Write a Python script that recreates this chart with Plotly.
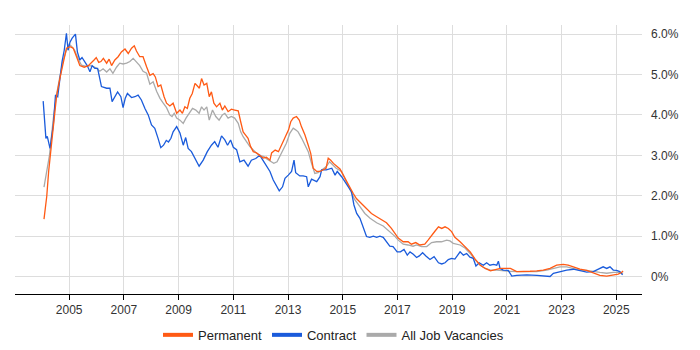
import plotly.graph_objects as go

# ---- data (year as decimal, value in %) ----
perm_x = [2004.08, 2004.18, 2004.25, 2004.3, 2004.42, 2004.54, 2004.66, 2004.78, 2004.9, 2005.03,
          2005.15, 2005.27, 2005.39, 2005.55, 2005.7, 2005.91, 2005.99, 2006.08, 2006.16, 2006.25,
          2006.37, 2006.46, 2006.55, 2006.67, 2006.79, 2006.91, 2007.04, 2007.16, 2007.28, 2007.38,
          2007.46, 2007.58, 2007.7, 2007.83, 2007.95, 2008.07, 2008.15, 2008.25, 2008.35, 2008.47,
          2008.56, 2008.68, 2008.8, 2008.93, 2009.05, 2009.14, 2009.23, 2009.32, 2009.41, 2009.5,
          2009.6, 2009.68, 2009.76, 2009.84, 2009.93, 2010.03, 2010.12, 2010.2, 2010.29, 2010.39,
          2010.51, 2010.6, 2010.69, 2010.81, 2010.93, 2011.05, 2011.18, 2011.27, 2011.36, 2011.45,
          2011.54, 2011.63, 2011.73, 2011.85, 2011.97, 2012.09, 2012.21, 2012.34, 2012.4, 2012.53,
          2012.65, 2012.73, 2012.83, 2012.92, 2013.02, 2013.1, 2013.19, 2013.31, 2013.41, 2013.49,
          2013.62, 2013.74, 2013.83, 2013.92, 2014.05, 2014.17, 2014.3, 2014.39, 2014.47, 2014.56,
          2014.66, 2014.78, 2014.9, 2015.02, 2015.14, 2015.25, 2015.38, 2015.5, 2015.68, 2015.87,
          2016.05, 2016.24, 2016.42, 2016.6, 2016.78, 2016.9, 2017.03, 2017.21, 2017.39, 2017.51,
          2017.67, 2017.82, 2018.0, 2018.12, 2018.25, 2018.37, 2018.5, 2018.62, 2018.74, 2018.86,
          2018.98, 2019.1, 2019.29, 2019.48, 2019.66, 2019.84, 2020.03, 2020.21, 2020.4, 2020.58,
          2020.77, 2020.95, 2021.13, 2021.36, 2021.6, 2021.85, 2022.09, 2022.33, 2022.58, 2022.82,
          2023.06, 2023.24, 2023.43, 2023.67, 2023.92, 2024.16, 2024.4, 2024.65, 2024.89, 2025.07,
          2025.19, 2025.25]
perm_y = [1.42, 1.98, 2.6, 2.93, 3.83, 4.47, 4.9, 5.32, 5.65, 5.69,
          5.65, 5.44, 5.22, 5.18, 5.22, 5.36, 5.42, 5.3, 5.32, 5.4,
          5.28, 5.38, 5.22, 5.36, 5.44, 5.56, 5.63, 5.52, 5.65, 5.71,
          5.58, 5.44, 5.44, 5.19, 4.98, 5.02, 4.94, 4.7, 4.74, 4.45,
          4.29, 4.22, 4.29, 4.04, 4.12, 4.04, 4.2, 4.16, 4.41, 4.53,
          4.78, 4.72, 4.66, 4.9, 4.74, 4.78, 4.45, 4.57, 4.29, 4.2,
          4.29, 4.12, 4.22, 4.08, 4.14, 4.12, 4.1, 3.83, 3.58, 3.5,
          3.42, 3.22, 3.09, 3.06, 3.0, 2.93, 2.95, 2.88, 3.06, 3.13,
          3.09, 3.2, 3.34, 3.46, 3.63, 3.83, 3.92, 3.96, 3.87, 3.71,
          3.5, 3.25, 3.05, 2.68, 2.6, 2.6, 2.64, 2.68, 2.93, 2.88,
          2.8, 2.72, 2.66, 2.51, 2.35, 2.21, 2.06, 1.93, 1.81, 1.69,
          1.56, 1.48, 1.4, 1.33, 1.19, 1.07, 0.95, 0.86, 0.86, 0.8,
          0.84, 0.78, 0.8, 0.9, 1.03, 1.12, 1.23, 1.19, 1.23, 1.19,
          1.11, 0.97, 0.86, 0.74, 0.61, 0.43, 0.28, 0.2, 0.14, 0.17,
          0.2, 0.2, 0.2, 0.12, 0.12, 0.13, 0.14, 0.16, 0.2, 0.28,
          0.3, 0.28, 0.24, 0.18, 0.15, 0.08, 0.03, 0.01, 0.03, 0.06,
          0.1, 0.14]

contract_x = [2004.05, 2004.15, 2004.2, 2004.3, 2004.42, 2004.5, 2004.58, 2004.66, 2004.74, 2004.82,
              2004.9, 2004.96, 2005.03, 2005.11, 2005.23, 2005.3, 2005.39, 2005.47, 2005.57, 2005.66,
              2005.76, 2005.84, 2005.94, 2006.04, 2006.12, 2006.18, 2006.37, 2006.49, 2006.57, 2006.67,
              2006.77, 2006.89, 2006.97, 2007.05, 2007.13, 2007.28, 2007.4, 2007.52, 2007.64, 2007.77,
              2007.89, 2008.01, 2008.13, 2008.25, 2008.35, 2008.45, 2008.55, 2008.63, 2008.72, 2008.8,
              2008.93, 2009.05, 2009.17, 2009.26, 2009.35, 2009.47, 2009.6, 2009.75, 2009.9, 2010.05,
              2010.2, 2010.32, 2010.44, 2010.57, 2010.69, 2010.79, 2010.9, 2011.0, 2011.12, 2011.24,
              2011.39, 2011.54, 2011.66, 2011.82, 2011.97, 2012.09, 2012.22, 2012.34, 2012.46, 2012.56,
              2012.68, 2012.8, 2012.89, 2013.01, 2013.13, 2013.22, 2013.28, 2013.43, 2013.55, 2013.68,
              2013.74, 2013.86, 2014.05, 2014.17, 2014.23, 2014.4, 2014.6, 2014.72, 2014.8, 2014.96,
              2015.08, 2015.2, 2015.32, 2015.41, 2015.51, 2015.63, 2015.75, 2015.87, 2015.99, 2016.12,
              2016.24, 2016.36, 2016.48, 2016.6, 2016.72, 2016.84, 2016.99, 2017.11, 2017.24, 2017.36,
              2017.46, 2017.58, 2017.7, 2017.8, 2017.92, 2018.04, 2018.19, 2018.34, 2018.5, 2018.62,
              2018.74, 2018.86, 2018.98, 2019.1, 2019.29, 2019.41, 2019.53, 2019.65, 2019.77, 2019.87,
              2019.99, 2020.14, 2020.26, 2020.38, 2020.51, 2020.63, 2020.69, 2020.75, 2020.87, 2021.05,
              2021.18, 2021.36, 2021.73, 2022.1, 2022.46, 2022.58, 2022.7, 2022.94, 2023.19, 2023.43,
              2023.67, 2023.92, 2024.16, 2024.4, 2024.52, 2024.65, 2024.77, 2024.89, 2025.01, 2025.13,
              2025.23]
contract_y = [4.34, 3.42, 3.47, 3.17, 3.75, 4.49, 4.45, 4.9, 5.32, 5.6,
              6.02, 5.6, 5.8, 5.9, 6.0, 5.56, 5.36, 5.42, 5.32, 5.22,
              5.07, 5.22, 5.15, 5.15, 4.9, 4.7, 4.66, 4.66, 4.33, 4.45,
              4.57, 4.45, 4.18, 4.41, 4.53, 4.43, 4.45, 4.49, 4.37, 4.16,
              4.0, 3.75, 3.67, 3.42, 3.19, 3.25, 3.37, 3.33, 3.42, 3.58,
              3.71, 3.55, 3.25, 3.44, 3.17, 3.09, 2.93, 2.73, 2.88, 3.09,
              3.25, 3.34, 3.2, 3.48, 3.38, 3.25, 3.38, 3.2, 3.14, 2.84,
              2.88, 2.73, 2.88, 2.92, 3.0, 2.88, 2.73, 2.6, 2.39, 2.26,
              2.12, 2.22, 2.43, 2.51, 2.6, 2.88, 2.57, 2.49, 2.49, 2.47,
              2.22, 2.41, 2.35, 2.47, 2.64, 2.64, 2.68, 2.51, 2.6, 2.47,
              2.35, 2.21, 2.1, 1.77, 1.56, 1.44, 1.19, 0.99, 0.97, 1.0,
              0.97, 1.0, 0.97, 0.86, 0.75, 0.74, 0.61, 0.61, 0.67, 0.53,
              0.61, 0.55, 0.47, 0.51, 0.59, 0.51, 0.42, 0.49, 0.34, 0.31,
              0.34, 0.42, 0.45, 0.43, 0.61, 0.53, 0.57, 0.48, 0.45, 0.26,
              0.34, 0.28, 0.34, 0.28, 0.3, 0.28, 0.38, 0.2, 0.16, 0.15,
              0.01, 0.03, 0.04, 0.03, 0.01, 0.0, 0.08, 0.12, 0.16, 0.18,
              0.15, 0.11, 0.12, 0.2, 0.24, 0.2, 0.24, 0.16, 0.15, 0.12,
              0.04]

all_x = [2004.08, 2004.18, 2004.28, 2004.42, 2004.54, 2004.66, 2004.78, 2004.9, 2005.0, 2005.1,
         2005.2, 2005.32, 2005.45, 2005.63, 2005.75, 2005.87, 2005.99, 2006.12, 2006.24, 2006.37,
         2006.49, 2006.6, 2006.73, 2006.85, 2006.97, 2007.1, 2007.22, 2007.34, 2007.46, 2007.58,
         2007.7, 2007.83, 2007.95, 2008.07, 2008.2, 2008.32, 2008.44, 2008.56, 2008.68, 2008.76,
         2008.84, 2008.93, 2009.05, 2009.17, 2009.27, 2009.39, 2009.51, 2009.63, 2009.75, 2009.84,
         2009.93, 2010.03, 2010.12, 2010.24, 2010.36, 2010.48, 2010.6, 2010.69, 2010.81, 2010.93,
         2011.05, 2011.18, 2011.27, 2011.36, 2011.48, 2011.6, 2011.73, 2011.85, 2011.97, 2012.12,
         2012.24, 2012.36, 2012.48, 2012.6, 2012.7, 2012.82, 2012.94, 2013.07, 2013.19, 2013.28,
         2013.37, 2013.5, 2013.62, 2013.74, 2013.86, 2013.98, 2014.1, 2014.23, 2014.4, 2014.52,
         2014.64, 2014.76, 2014.96, 2015.08, 2015.2, 2015.32, 2015.44, 2015.63, 2015.81, 2016.0,
         2016.24, 2016.48, 2016.72, 2016.9, 2017.03, 2017.21, 2017.39, 2017.57, 2017.7, 2017.88,
         2018.07, 2018.25, 2018.43, 2018.61, 2018.8, 2018.92, 2019.04, 2019.29, 2019.48, 2019.66,
         2019.84, 2020.03, 2020.21, 2020.4, 2020.64, 2020.87, 2021.1, 2021.36, 2021.73, 2022.09,
         2022.46, 2022.7, 2022.94, 2023.19, 2023.43, 2023.67, 2023.92, 2024.16, 2024.4, 2024.65,
         2024.89, 2025.14, 2025.25]
all_y = [2.21, 2.56, 3.0, 3.9, 4.5, 4.95, 5.35, 5.6, 5.75, 5.69,
         5.6, 5.4, 5.23, 5.2, 5.22, 5.2, 5.16, 5.08, 5.14, 5.06,
         5.14, 5.03, 5.18, 5.28, 5.26, 5.28, 5.32, 5.4, 5.3, 5.22,
         5.08, 5.03, 4.76, 4.82, 4.58, 4.41, 4.29, 4.18, 4.0, 3.96,
         4.04, 3.92, 3.87, 3.79, 3.92, 4.04, 4.16, 4.12, 4.04, 4.2,
         4.12, 4.2, 3.87, 4.12, 3.96, 3.87, 4.0, 4.04, 3.92, 3.96,
         3.92, 3.79, 3.58, 3.46, 3.34, 3.22, 3.13, 3.05, 3.0, 2.97,
         2.9, 2.84, 2.8, 2.84, 2.97, 3.13, 3.3, 3.55, 3.67, 3.63,
         3.58, 3.42, 3.25, 3.09, 2.8, 2.55, 2.57, 2.64, 2.72, 2.84,
         2.76, 2.68, 2.6, 2.43, 2.23, 2.06, 1.9, 1.73, 1.56, 1.44,
         1.33, 1.25, 1.11, 1.0, 0.9, 0.8, 0.78, 0.75, 0.78, 0.74,
         0.74, 0.84, 0.86, 0.86, 0.9, 0.88, 0.82, 0.78, 0.7, 0.57,
         0.41, 0.28, 0.2, 0.16, 0.16, 0.14, 0.13, 0.12, 0.12, 0.12,
         0.16, 0.2, 0.24, 0.24, 0.2, 0.16, 0.15, 0.12, 0.1, 0.08,
         0.1, 0.1, 0.08]

series_names = ["Permanent", "Contract", "All Job Vacancies"]
series_colors = ["#FF5A14", "#1A5BDB", "#AAAAAA"]

year_ticks = [2005, 2007, 2009, 2011, 2013, 2015, 2017, 2019, 2021, 2023, 2025]
pct_ticks = [0, 1, 2, 3, 4, 5, 6]
pct_labels = ["0%", "1.0%", "2.0%", "3.0%", "4.0%", "5.0%", "6.0%"]

fig = go.Figure()

# plot lines (drawn order: gray, blue, orange)
fig.add_trace(go.Scatter(x=all_x, y=all_y, mode="lines", name=series_names[2],
                         line=dict(color=series_colors[2], width=1.3), showlegend=False))
fig.add_trace(go.Scatter(x=contract_x, y=contract_y, mode="lines", name=series_names[1],
                         line=dict(color=series_colors[1], width=1.3), showlegend=False))
fig.add_trace(go.Scatter(x=perm_x, y=perm_y, mode="lines", name=series_names[0],
                         line=dict(color=series_colors[0], width=1.3), showlegend=False))

# legend entries
for name, color in zip(series_names, series_colors):
    fig.add_trace(go.Scatter(x=[None], y=[None], mode="lines", name=name,
                             line=dict(color=color, width=4), showlegend=True))

fig.update_layout(
    width=700, height=350,
    margin=dict(l=7, r=66, t=17, b=64, autoexpand=False),
    paper_bgcolor="white", plot_bgcolor="white",
    font=dict(family="Liberation Sans, Arial, sans-serif", size=12, color="#333333"),
    showlegend=True,
    legend=dict(orientation="h", x=0.465, xanchor="center", xref="container",
                y=0.066, yanchor="middle", yref="container",
                font=dict(size=13, color="#222222"), itemwidth=30, traceorder="normal"),
    hovermode=False,
)
fig.update_xaxes(range=[2003.02, 2025.94], tickvals=year_ticks, ticktext=[str(t) for t in year_ticks],
                 showgrid=True, gridcolor="#DDDDDD", gridwidth=1, automargin=False,
                 showline=True, linecolor="#000000", linewidth=1,
                 ticks="outside", ticklen=5, tickcolor="#000000", zeroline=False)
fig.update_yaxes(range=[-0.433, 6.225], side="right", tickvals=pct_ticks, ticktext=pct_labels,
                 showgrid=True, gridcolor="#DDDDDD", gridwidth=1, zeroline=False, automargin=False,
                 showline=False, ticks="", ticklabelstandoff=8)

fig.write_html("out.html")
